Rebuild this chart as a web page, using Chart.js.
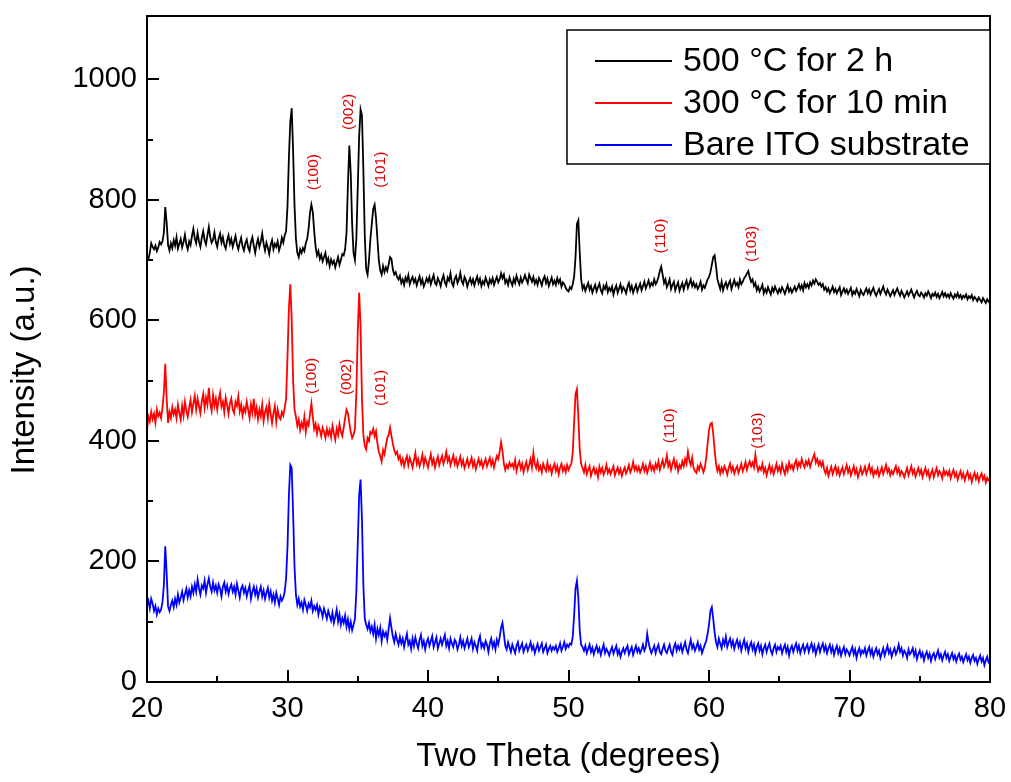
<!DOCTYPE html>
<html>
<head>
    <meta charset="UTF-8">
    <title>XRD</title>
    <style>
        body {
            margin: 0;
            padding: 0;
            background-color: #fff;
        }
        canvas {
            display: block;
        }
    </style>
</head>
<body>
    <canvas id="myChart" width="1011" height="782"></canvas>

    <script src="https://cdn.jsdelivr.net/npm/chart.js"></script>
    <script>
        // 2theta grid: 20 .. 80, step 0.1
        var xStart = 20;
        var xStep = 0.1;

        var seriesNames = ['500 °C for 2 h', '300 °C for 10 min', 'Bare ITO substrate'];
        var seriesColors = ['#000000', '#ff0000', '#0000ff'];

        // intensities, one row per degree
        var black = [
            705,702,712,728,722,718,724,715,721,730,
            726,731,745,788,762,725,716,728,720,733,
            724,738,719,727,735,721,730,742,726,718,
            731,725,740,752,736,728,745,731,722,737,
            748,733,726,741,755,738,729,734,746,730,
            722,736,744,729,738,725,719,732,741,727,
            735,722,731,740,726,718,729,737,723,716,
            728,734,721,715,730,738,724,712,726,735,
            722,731,744,727,716,729,721,710,725,733,
            718,727,722,731,716,724,737,729,741,748,
            790,870,930,952,880,790,735,712,705,718,
            712,720,715,728,735,752,778,792,780,748,
            722,708,715,702,709,698,705,712,696,703,
            690,701,694,699,688,697,705,692,700,710,
            708,718,745,825,890,845,760,712,700,735,
            820,905,950,940,850,740,685,676,700,735,
            760,785,792,770,735,700,683,676,690,680,
            688,682,693,705,702,684,676,680,672,668,
            674,662,668,659,671,665,675,660,667,672,
            663,669,658,666,673,661,668,656,662,670,
            664,672,660,668,675,662,659,670,665,657,
            668,675,663,658,671,666,678,662,657,669,
            674,662,668,679,665,660,672,667,656,664,
            670,661,668,658,666,673,662,669,657,665,
            660,671,664,657,668,662,670,659,666,672,
            663,668,678,670,676,662,667,659,671,664,
            658,669,662,674,666,660,671,663,668,675,
            668,662,676,670,664,672,661,667,659,670,
            665,658,668,673,662,669,657,664,671,660,
            666,659,670,662,668,656,663,660,654,650,
            648,655,652,660,672,705,760,766,712,668,
            652,658,649,656,662,651,657,646,653,659,
            648,655,661,650,645,657,652,660,647,654,
            649,656,643,652,658,646,653,660,648,655,
            651,645,656,662,650,657,646,653,659,648,
            655,661,650,657,664,653,659,666,656,662,
            658,668,660,664,672,682,689,676,662,668,
            655,661,668,652,659,664,650,657,663,649,
            656,662,651,660,666,654,661,668,657,663,
            655,660,652,657,664,651,658,654,661,668,
            672,680,692,705,708,690,668,660,652,664,
            650,658,663,654,661,666,652,660,667,658,
            662,655,668,660,664,670,673,678,682,671,
            664,668,657,662,650,656,648,653,659,645,
            652,646,655,649,643,654,648,656,650,645,
            652,647,655,650,644,651,658,648,653,646,
            651,656,649,654,660,652,658,650,662,655,
            660,654,663,658,666,661,668,664,659,662,
            656,660,651,655,648,653,645,650,656,647,
            652,645,650,655,642,648,653,646,651,644,
            649,654,642,648,644,652,646,640,650,645,
            642,648,653,645,651,643,649,654,646,641,
            647,652,644,650,656,648,643,651,646,640,
            645,650,642,648,653,646,641,649,644,638,
            643,648,641,646,651,644,638,645,649,642,
            640,646,643,638,645,641,648,643,637,644,
            641,646,639,644,637,642,647,640,645,639,
            643,638,645,640,636,643,639,645,638,642,
            636,641,638,643,635,640,637,642,634,639,
            636,632,638,634,630,637,633,629,635,631,
            633
        ];

        var red = [
            418,440,432,448,436,445,430,452,441,447,
            438,455,480,528,470,430,448,438,456,444,
            452,438,460,446,435,458,442,465,450,440,
            455,468,448,462,475,452,470,458,446,466,
            478,455,472,460,488,462,450,476,458,470,
            452,468,480,457,465,448,472,460,445,462,
            470,452,446,465,458,474,449,460,442,455,
            448,465,452,438,460,447,470,443,455,436,
            452,441,460,433,448,456,438,462,445,430,
            446,458,432,452,440,436,448,442,455,470,
            540,620,660,600,500,452,440,425,435,418,
            430,422,440,415,432,426,445,462,440,420,
            428,412,425,418,408,422,415,405,420,410,
            418,406,425,413,402,420,410,428,415,408,
            422,438,452,446,430,415,405,410,420,480,
            580,646,590,470,410,392,386,405,400,415,
            412,420,408,416,396,382,375,366,385,378,
            392,405,410,422,408,395,385,378,382,370,
            375,362,370,358,368,375,360,372,365,356,
            368,380,362,370,358,366,377,360,372,364,
            356,368,378,362,370,356,366,374,360,368,
            375,362,370,382,366,373,360,368,376,362,
            370,358,366,374,360,368,355,362,370,358,
            364,372,358,366,353,362,370,360,367,356,
            363,370,358,365,372,360,368,356,366,375,
            370,382,398,384,362,352,360,355,364,358,
            362,355,368,350,360,366,354,362,348,358,
            365,352,360,370,356,380,362,355,366,352,
            358,348,362,355,350,364,352,358,346,356,
            362,350,358,345,356,362,350,357,348,360,
            352,358,362,380,430,478,486,440,385,362,
            355,348,360,345,352,358,342,350,356,346,
            352,340,357,348,355,344,350,360,347,353,
            345,352,358,343,350,356,346,353,342,350,
            356,346,352,360,348,354,365,352,358,350,
            357,348,354,362,350,358,347,355,364,352,
            358,350,362,355,366,352,360,368,357,363,
            376,358,365,352,362,370,356,364,350,360,
            355,366,358,370,362,382,368,360,372,355,
            350,347,358,352,362,356,348,355,372,395,
            418,428,430,412,385,362,350,358,346,355,
            348,358,352,344,355,362,350,357,346,353,
            358,347,354,362,350,356,365,352,360,366,
            358,364,356,377,360,350,357,352,362,348,
            355,343,352,360,348,356,345,353,362,350,
            357,348,362,352,345,358,350,364,355,360,
            352,362,368,355,364,358,370,362,356,366,
            360,368,357,365,372,378,364,370,360,366,
            358,365,352,346,355,342,350,357,345,352,
            358,346,354,343,350,356,345,352,360,348,
            355,343,350,358,346,353,340,348,356,345,
            350,357,345,352,360,348,355,342,350,346,
            354,342,349,356,345,352,360,348,354,343,
            350,345,352,358,347,354,343,350,346,340,
            348,355,343,350,358,346,352,341,348,355,
            345,352,340,348,355,344,350,338,346,352,
            340,348,355,343,350,346,338,352,344,349,
            343,350,338,346,352,341,347,336,344,350,
            339,346,335,343,349,338,344,332,341,347,
            337,344,333,341,346,336,342,331,339,335,
            338
        ];

        var blue = [
            128,135,122,138,130,118,126,112,122,116,
            120,132,160,225,180,125,118,128,135,124,
            138,128,145,132,140,150,136,146,155,140,
            152,142,158,148,162,150,170,156,145,160,
            155,168,148,162,172,158,150,165,152,160,
            148,162,155,142,158,165,150,160,146,156,
            162,150,158,145,163,152,140,155,160,148,
            156,142,152,160,138,150,158,145,155,140,
            150,158,142,152,138,148,156,140,150,135,
            145,132,148,138,128,142,135,140,150,172,
            225,310,360,355,280,190,145,128,138,125,
            132,120,136,128,118,130,124,135,118,126,
            120,128,112,124,118,108,122,114,105,118,
            110,102,115,98,108,120,100,112,95,106,
            98,110,92,104,88,100,86,95,105,150,
            230,310,336,270,160,105,95,88,98,84,
            92,80,95,72,88,78,90,68,84,76,
            82,70,88,106,90,75,66,80,70,62,
            75,64,72,58,70,80,62,68,55,72,
            60,74,64,56,70,78,60,68,54,66,
            72,60,68,76,58,66,74,56,64,72,
            62,70,78,60,68,56,72,64,58,70,
            66,54,62,74,60,68,56,64,72,58,
            64,72,55,66,60,52,68,76,58,64,
            56,68,62,50,64,72,58,66,54,70,
            62,74,90,98,80,60,54,66,58,50,
            62,55,48,60,66,52,58,64,50,57,
            62,52,58,66,54,60,48,56,63,52,
            58,64,50,56,62,48,55,60,52,58,
            54,60,50,56,64,52,58,66,55,62,
            58,64,62,75,110,155,168,140,85,62,
            58,52,60,48,55,62,50,57,46,54,
            60,50,56,45,54,62,48,55,50,44,
            52,58,47,54,60,46,53,42,50,56,
            48,55,60,46,52,58,45,53,60,50,
            56,48,54,62,52,58,80,65,55,48,
            54,60,48,56,62,50,46,55,62,52,
            48,56,62,50,45,58,64,52,60,54,
            62,50,58,66,54,48,60,70,56,62,
            52,58,66,54,60,48,55,62,68,80,
            95,118,124,105,82,66,58,72,64,56,
            70,62,75,58,66,72,60,68,55,64,
            70,58,66,52,62,70,56,64,50,60,
            66,54,62,48,58,64,52,60,46,56,
            62,50,58,64,52,46,56,62,50,58,
            54,60,48,56,62,50,58,44,55,60,
            50,58,64,52,60,48,56,62,50,57,
            62,50,58,64,52,60,46,55,62,50,
            58,64,52,60,48,56,62,50,58,45,
            54,60,48,56,44,52,58,46,54,50,
            44,52,58,46,54,40,50,56,45,52,
            48,56,44,52,58,46,54,42,50,56,
            46,52,40,48,56,44,52,60,48,54,
            42,50,56,46,52,62,50,56,44,52,
            48,40,54,46,50,56,44,52,38,46,
            52,42,48,36,45,50,40,47,35,44,
            48,38,45,52,40,46,36,44,50,40,
            46,35,42,48,38,44,34,42,47,37,
            42,33,40,46,36,42,32,40,45,35,
            40,30,38,44,34,40,28,36,42,32,
            30
        ];

        // peak labels (Miller indices), positions in data units
        var peakLabels = ['(100)', '(002)', '(101)', '(110)', '(103)',
                          '(100)', '(002)', '(101)', '(110)', '(103)'];
        var peakX = [31.9, 34.35, 36.65, 56.55, 63.05, 31.75, 34.25, 36.6, 57.2, 63.5];
        var peakY = [846, 946, 850, 740, 727, 508, 506, 488, 425, 417];

        var xTicks = [20, 30, 40, 50, 60, 70, 80];
        var yTicks = [0, 200, 400, 600, 800, 1000];

        var yTitle = 'Intensity (a.u.)';

        var FONT = 'Arial, "Liberation Sans", sans-serif';

        function toPoints(arr) {
            return arr.map(function(v, i) {
                return { x: +(xStart + i * xStep).toFixed(1), y: v };
            });
        }

        var allSeries = [black, red, blue];
        var datasets = allSeries.map(function(arr, k) {
            return {
                label: seriesNames[k],
                data: toPoints(arr),
                borderColor: seriesColors[k],
                backgroundColor: seriesColors[k],
                borderWidth: 1.8,
                pointRadius: 0,
                tension: 0,
                fill: false
            };
        });

        // frame, inward ticks, peak labels, y title and the boxed legend
        var decorPlugin = {
            id: 'decor',
            afterDatasetsDraw: function(chart) {
                var ctx = chart.ctx;
                var a = chart.chartArea;
                var xs = chart.scales.x;
                var ys = chart.scales.y;
                ctx.save();

                // peak labels
                ctx.fillStyle = '#e00000';
                ctx.font = '15.5px ' + FONT;
                ctx.textAlign = 'center';
                ctx.textBaseline = 'middle';
                for (var i = 0; i < peakLabels.length; i++) {
                    ctx.save();
                    ctx.translate(xs.getPixelForValue(peakX[i]), ys.getPixelForValue(peakY[i]));
                    ctx.rotate(-Math.PI / 2);
                    ctx.fillText(peakLabels[i], 0, 0);
                    ctx.restore();
                }

                // y axis title (sits a little below the centre in the original)
                ctx.fillStyle = '#000';
                ctx.font = '33px ' + FONT;
                ctx.save();
                ctx.translate(25, (a.top + a.bottom) / 2 + 21);
                ctx.rotate(-Math.PI / 2);
                ctx.fillText(yTitle, 0, 0);
                ctx.restore();

                // ticks
                ctx.strokeStyle = '#000';
                ctx.lineWidth = 2;
                ctx.beginPath();
                for (var v = 20; v <= 80; v += 5) {
                    var px = Math.round(xs.getPixelForValue(v));
                    var len = (v % 10 === 0) ? 12 : 6;
                    ctx.moveTo(px, a.bottom);
                    ctx.lineTo(px, a.bottom - len);
                }
                for (var w = 0; w <= 1000; w += 100) {
                    var py = Math.round(ys.getPixelForValue(w));
                    var l2 = (w % 200 === 0) ? 12 : 6;
                    ctx.moveTo(a.left, py);
                    ctx.lineTo(a.left + l2, py);
                }
                ctx.stroke();

                // frame
                ctx.strokeRect(a.left, a.top, a.right - a.left, a.bottom - a.top);

                // legend box
                var bx = a.left + 420, by = a.top + 14, bw = a.right - bx, bh = 134;
                ctx.fillStyle = '#fff';
                ctx.fillRect(bx, by, bw, bh);
                ctx.lineWidth = 1.5;
                ctx.strokeRect(bx, by, bw, bh);
                ctx.font = '34px ' + FONT;
                ctx.textAlign = 'left';
                ctx.textBaseline = 'middle';
                for (var k = 0; k < seriesNames.length; k++) {
                    var ry = by + 31 + k * 42;
                    ctx.strokeStyle = seriesColors[k];
                    ctx.lineWidth = 1.8;
                    ctx.beginPath();
                    ctx.moveTo(bx + 28, ry);
                    ctx.lineTo(bx + 105, ry);
                    ctx.stroke();
                    ctx.fillStyle = '#000';
                    ctx.fillText(seriesNames[k], bx + 116, ry + 1);
                }
                ctx.restore();
            }
        };

        var ctx = document.getElementById('myChart').getContext('2d');
        var chart = new Chart(ctx, {
            type: 'line',
            data: { datasets: datasets },
            options: {
                responsive: false,
                animation: false,
                devicePixelRatio: 1,
                layout: { padding: { left: 0, top: 16, right: 21, bottom: 0 } },
                plugins: {
                    legend: { display: false },
                    tooltip: { enabled: false }
                },
                scales: {
                    x: {
                        type: 'linear',
                        min: 20,
                        max: 80,
                        afterBuildTicks: function(scale) {
                            scale.ticks = xTicks.map(function(t) { return { value: t }; });
                        },
                        afterFit: function(scale) {
                            scale.height = 100;
                            scale.paddingLeft = 0;
                            scale.paddingRight = 0;
                        },
                        grid: { display: false, drawTicks: false },
                        border: { display: false },
                        ticks: {
                            color: '#000',
                            padding: 10,
                            maxRotation: 0,
                            callback: function(v) { return String(v); },
                            font: { family: FONT, size: 29 }
                        },
                        title: {
                            display: true,
                            text: 'Two Theta (degrees)',
                            color: '#000',
                            padding: { top: 0, bottom: 5 },
                            font: { family: FONT, size: 33, lineHeight: 1.2 }
                        }
                    },
                    y: {
                        min: 0,
                        max: 1105,
                        afterBuildTicks: function(scale) {
                            scale.ticks = yTicks.map(function(t) { return { value: t }; });
                        },
                        afterFit: function(scale) {
                            scale.width = 147;
                            scale.paddingTop = 0;
                            scale.paddingBottom = 0;
                        },
                        grid: { display: false, drawTicks: false },
                        border: { display: false },
                        ticks: {
                            color: '#000',
                            padding: 10,
                            callback: function(v) { return String(v); },
                            font: { family: FONT, size: 29 }
                        }
                    }
                }
            },
            plugins: [decorPlugin]
        });
    </script>
</body>
</html>
